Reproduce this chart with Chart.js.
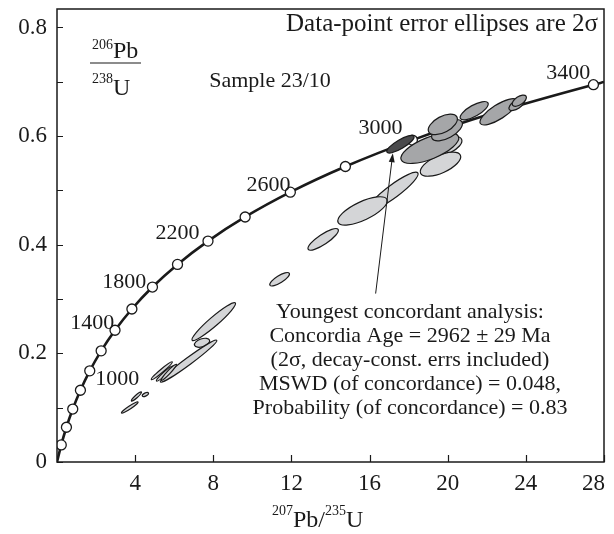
<!DOCTYPE html>
<html>
<head>
<meta charset="utf-8">
<script src="https://cdn.jsdelivr.net/npm/chart.js@4.4.1/dist/chart.umd.min.js"></script>
<style>
  html, body { margin: 0; background: #fff; }
</style>
</head>
<body>
<canvas id="concordia" width="614" height="534"></canvas>
<script>
// concordia curve (one marker every 200 Ma)
const concX = [0, 0.218, 0.483, 0.806, 1.199, 1.677, 2.260, 2.970, 3.834, 4.886, 6.168, 7.729, 9.630, 11.944, 14.762, 18.192, 22.372, 27.459, 28];
const concY = [0, 0.0315, 0.0640, 0.0975, 0.1321, 0.1678, 0.2046, 0.2426, 0.2817, 0.3221, 0.3638, 0.4067, 0.4511, 0.4968, 0.5440, 0.5926, 0.6428, 0.6946, 0.6996];
const concMarker = [0, 1, 1, 1, 1, 1, 1, 1, 1, 1, 1, 1, 1, 1, 1, 1, 1, 1, 0];

// age labels on the curve
const ageLabels = ['1000', '1400', '1800', '2200', '2600', '3000', '3400'];
const ageLabelX = [3.09, 1.81, 3.44, 6.17, 10.82, 16.56, 26.17];
const ageLabelY = [0.152, 0.255, 0.331, 0.421, 0.510, 0.615, 0.716];

// error ellipses: ends of the long axis, short/long axis ratio, shade group
const ellX1 = [19.18, 18.61, 15.97, 14.39, 12.86, 10.90, 6.92, 7.04, 5.29, 4.83, 5.09, 5.34, 3.30, 3.81, 4.37, 17.62, 19.20, 19.03, 20.65, 21.67, 23.15, 23.32, 16.89];
const ellY1 = [0.5685, 0.5317, 0.4654, 0.4411, 0.3915, 0.3254, 0.2241, 0.2149, 0.1473, 0.1517, 0.1492, 0.1505, 0.0902, 0.1123, 0.1215, 0.5564, 0.5956, 0.6077, 0.6324, 0.6232, 0.6490, 0.6569, 0.5704];
const ellX2 = [20.71, 20.65, 18.47, 16.89, 14.39, 11.89, 9.13, 7.81, 8.18, 5.90, 5.93, 6.11, 4.15, 4.32, 4.68, 20.55, 20.73, 20.47, 22.06, 23.54, 23.93, 24.01, 18.27];
const ellY2 = [0.5943, 0.5648, 0.5322, 0.4834, 0.4283, 0.3475, 0.2928, 0.2241, 0.2241, 0.1842, 0.1762, 0.1799, 0.1105, 0.1289, 0.1271, 0.5991, 0.6262, 0.6354, 0.6611, 0.6661, 0.6674, 0.6735, 0.5998];
const ellRatio = [0.45, 0.40, 0.21, 0.34, 0.28, 0.32, 0.16, 0.50, 0.10, 0.12, 0.15, 0.15, 0.15, 0.20, 0.45, 0.35, 0.45, 0.50, 0.35, 0.33, 0.45, 0.50, 0.28];
const ellGroup = ['light', 'light', 'light', 'light', 'light', 'light', 'light', 'light', 'light', 'light', 'light', 'light', 'light', 'light', 'light',
  'mid', 'mid', 'mid', 'mid', 'mid', 'mid', 'mid', 'dark'];

// arrow to the youngest concordant analysis
const arrowX = [16.31, 17.19];
const arrowY = [0.3101, 0.5685];

// ticks
const xTicks = [4, 8, 12, 16, 20, 24, 28];
const yTicks = [0, 0.1, 0.2, 0.3, 0.4, 0.5, 0.6, 0.7, 0.8];
const yTickLabels = ['0', '', '0.2', '', '0.4', '', '0.6', '', '0.8'];

const noteLines = [
  'Youngest concordant analysis:',
  'Concordia Age = 2962 \u00b1 29 Ma',
  '(2\u03c3, decay-const. errs included)',
  'MSWD (of concordance) = 0.048,',
  'Probability (of concordance) = 0.83'
];

const serif = '"Liberation Serif", "DejaVu Serif", serif';
const ink = '#1a1a1a';
const shades = { light: '#d4d5d7', mid: '#a5a6a8', dark: '#4a4a4c' };

// frame, inward tick marks and tick labels
const framePlugin = {
  id: 'frame',
  afterDraw(chart) {
    const { ctx, chartArea: a, scales } = chart;
    ctx.save();
    ctx.strokeStyle = ink;
    ctx.fillStyle = ink;
    ctx.lineWidth = 1.5;
    ctx.strokeRect(a.left, a.top, a.right - a.left, a.bottom - a.top);
    ctx.lineWidth = 1.2;
    ctx.beginPath();
    yTicks.forEach(v => {
      const py = Math.round(scales.y.getPixelForValue(v)) + 0.5;
      ctx.moveTo(a.left, py);
      ctx.lineTo(a.left + 6, py);
    });
    xTicks.forEach(v => {
      const px = Math.round(scales.x.getPixelForValue(v)) + 0.5;
      ctx.moveTo(px, a.bottom);
      ctx.lineTo(px, a.bottom - 7);
    });
    ctx.stroke();

    ctx.font = '23px ' + serif;
    ctx.textBaseline = 'middle';
    ctx.textAlign = 'right';
    yTicks.forEach((v, i) => {
      ctx.fillText(yTickLabels[i], a.left - 10, scales.y.getPixelForValue(v));
    });
    ctx.textAlign = 'center';
    ctx.textBaseline = 'top';
    xTicks.forEach(v => {
      const t = String(v);
      const w = ctx.measureText(t).width;
      const px = Math.min(scales.x.getPixelForValue(v), a.right + 1 - w / 2);
      ctx.fillText(t, px, a.bottom + 10);
    });
    ctx.restore();
  }
};

// ellipses drawn over the curve
const ellipsePlugin = {
  id: 'ellipses',
  afterDatasetsDraw(chart) {
    const { ctx, scales } = chart;
    ctx.save();
    ctx.lineWidth = 1.2;
    ctx.strokeStyle = ink;
    ellX1.forEach((_, i) => {
      const x1 = scales.x.getPixelForValue(ellX1[i]);
      const y1 = scales.y.getPixelForValue(ellY1[i]);
      const x2 = scales.x.getPixelForValue(ellX2[i]);
      const y2 = scales.y.getPixelForValue(ellY2[i]);
      const len = Math.hypot(x2 - x1, y2 - y1);
      const ang = Math.atan2(y2 - y1, x2 - x1);
      ctx.beginPath();
      ctx.ellipse((x1 + x2) / 2, (y1 + y2) / 2, len / 2, len * ellRatio[i] / 2, ang, 0, Math.PI * 2);
      ctx.fillStyle = shades[ellGroup[i]];
      ctx.fill();
      ctx.stroke();
    });
    ctx.restore();
  }
};

function supLabel(ctx, x, baseline, parts) {
  // parts: [text, size, raise]
  let cx = x;
  parts.forEach(([t, size, raise]) => {
    ctx.font = size + 'px ' + serif;
    ctx.fillText(t, cx, baseline - raise);
    cx += ctx.measureText(t).width;
  });
}

const textPlugin = {
  id: 'texts',
  afterDraw(chart) {
    const { ctx, chartArea: a, scales } = chart;
    ctx.save();
    ctx.fillStyle = ink;
    ctx.strokeStyle = ink;

    // arrow
    const ax1 = scales.x.getPixelForValue(arrowX[0]), ay1 = scales.y.getPixelForValue(arrowY[0]);
    const ax2 = scales.x.getPixelForValue(arrowX[1]), ay2 = scales.y.getPixelForValue(arrowY[1]);
    const ang = Math.atan2(ay2 - ay1, ax2 - ax1);
    ctx.lineWidth = 1;
    ctx.beginPath();
    ctx.moveTo(ax1, ay1);
    ctx.lineTo(ax2 - 6 * Math.cos(ang), ay2 - 6 * Math.sin(ang));
    ctx.stroke();
    ctx.beginPath();
    ctx.moveTo(ax2, ay2);
    ctx.lineTo(ax2 - 9 * Math.cos(ang) + 3 * Math.sin(ang), ay2 - 9 * Math.sin(ang) - 3 * Math.cos(ang));
    ctx.lineTo(ax2 - 9 * Math.cos(ang) - 3 * Math.sin(ang), ay2 - 9 * Math.sin(ang) + 3 * Math.cos(ang));
    ctx.closePath();
    ctx.fill();

    // age labels
    ctx.font = '22px ' + serif;
    ctx.textAlign = 'center';
    ctx.textBaseline = 'middle';
    ageLabels.forEach((t, i) => {
      ctx.fillText(t, scales.x.getPixelForValue(ageLabelX[i]), scales.y.getPixelForValue(ageLabelY[i]));
    });

    // notes
    ctx.textBaseline = 'alphabetic';
    ctx.textAlign = 'center';
    ctx.fillText('Sample 23/10', a.left + 213, a.top + 78);
    noteLines.forEach((t, i) => ctx.fillText(t, a.left + 353, a.top + 309 + i * 24));
    ctx.font = '25px ' + serif;
    ctx.textAlign = 'right';
    ctx.fillText('Data-point error ellipses are 2\u03c3', a.right - 6, a.top + 22);

    // y axis title as a fraction
    ctx.textAlign = 'left';
    supLabel(ctx, a.left + 35, a.top + 49, [['206', 14, 9], ['Pb', 24, 0]]);
    ctx.lineWidth = 1.2;
    ctx.beginPath();
    ctx.moveTo(a.left + 33, a.top + 54);
    ctx.lineTo(a.left + 84, a.top + 54);
    ctx.stroke();
    supLabel(ctx, a.left + 35, a.top + 86, [['238', 14, 12], ['U', 24, 0]]);

    // x axis title
    supLabel(ctx, 272, 527, [['207', 14, 12], ['Pb/', 24, 0], ['235', 14, 12], ['U', 24, 0]]);
    ctx.restore();
  }
};

new Chart(document.getElementById('concordia'), {
  type: 'line',
  data: {
    datasets: [{
      data: concX.map((x, i) => ({ x, y: concY[i] })),
      borderColor: ink,
      borderWidth: 2.6,
      cubicInterpolationMode: 'monotone',
      pointRadius: concMarker.map(m => (m ? 5 : 0)),
      pointBackgroundColor: '#fff',
      pointBorderColor: ink,
      pointBorderWidth: 1.3,
    }],
  },
  options: {
    responsive: false,
    animation: false,
    layout: { padding: { top: 9, right: 10, left: 0, bottom: 0 } },
    plugins: { legend: { display: false }, tooltip: { enabled: false } },
    scales: {
      x: {
        type: 'linear',
        min: 0,
        max: 28,
        afterFit(s) { s.height = 72; },
        afterBuildTicks(s) { s.ticks = xTicks.map(v => ({ value: v })); },
        grid: { display: false, drawTicks: false },
        border: { display: false },
        ticks: { display: false },
      },
      y: {
        type: 'linear',
        min: 0,
        max: 0.834,
        afterFit(s) { s.width = 57; },
        afterBuildTicks(s) { s.ticks = yTicks.map(v => ({ value: v })); },
        grid: { display: false, drawTicks: false },
        border: { display: false },
        ticks: { display: false },
      },
    },
  },
  plugins: [framePlugin, ellipsePlugin, textPlugin],
});
</script>
</body>
</html>
